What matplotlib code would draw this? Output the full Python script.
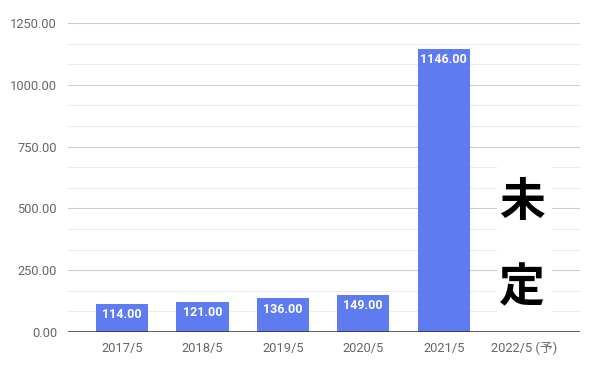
import numpy as np
import matplotlib.pyplot as plt
from matplotlib.patches import Rectangle

# data
categories = ["2017/5", "2018/5", "2019/5", "2020/5", "2021/5", "2022/5 (予)"]
values = [114.0, 121.0, 136.0, 149.0, 1146.0]
y_ticks = [0, 250, 500, 750, 1000, 1250]
note_text = ["未", "定"]

bar_color = "#5f7bf0"
plt.rcParams['font.family'] = ["Roboto", "Noto Sans CJK JP", "DejaVu Sans"]

fig = plt.figure(figsize=(5.94, 3.68), dpi=100)
ax = fig.add_axes([0.1145, 0.0978, 0.8615, 0.8397])

x = np.arange(len(categories))
bar_w = 0.65

ax.set_xlim(-0.67, 5.69)
ax.set_ylim(0, 1250)

# gridlines: major every 250, minor in thirds
minor = [m for m in np.arange(0, 1250.1, 250 / 3) if round(m) % 250 != 0]
for m in minor:
    ax.axhline(m, color="#ebebeb", lw=0.8, zorder=0)
for t in y_ticks[1:]:
    ax.axhline(t, color="#cccccc", lw=0.8, zorder=0)

bars = ax.bar(x[:len(values)], values, width=bar_w, color=bar_color, zorder=2)
for xi, v in zip(x[:len(values)], values):
    ax.annotate(f"{v:.2f}", (xi, v), xytext=(0, -3), textcoords="offset points",
                ha="center", va="top", color="white", fontsize=9,
                fontweight="bold", zorder=3)

# "未定" note box for the forecast year
ax.add_patch(Rectangle((4.66, 40), 0.69, 664, fc="white", ec="none", zorder=1))
ax.text(4.97, 522, note_text[0], ha="center", va="center", fontsize=33,
        fontweight="bold", color="black", zorder=3)
ax.text(4.97, 178, note_text[1], ha="center", va="center", fontsize=33,
        fontweight="bold", color="black", zorder=3)

ax.axhline(0, color="#333333", lw=1.1, zorder=4)

ax.set_xticks(x)
ax.set_xticklabels(categories)
ax.set_yticks(y_ticks)
ax.set_yticklabels([f"{t:.2f}" for t in y_ticks])
ax.tick_params(axis="both", length=0, labelsize=9.3, labelcolor="#666666")
ax.tick_params(axis="x", pad=7)
ax.tick_params(axis="y", pad=8)
for s in ax.spines.values():
    s.set_visible(False)

fig.savefig("out.png", dpi=100)
